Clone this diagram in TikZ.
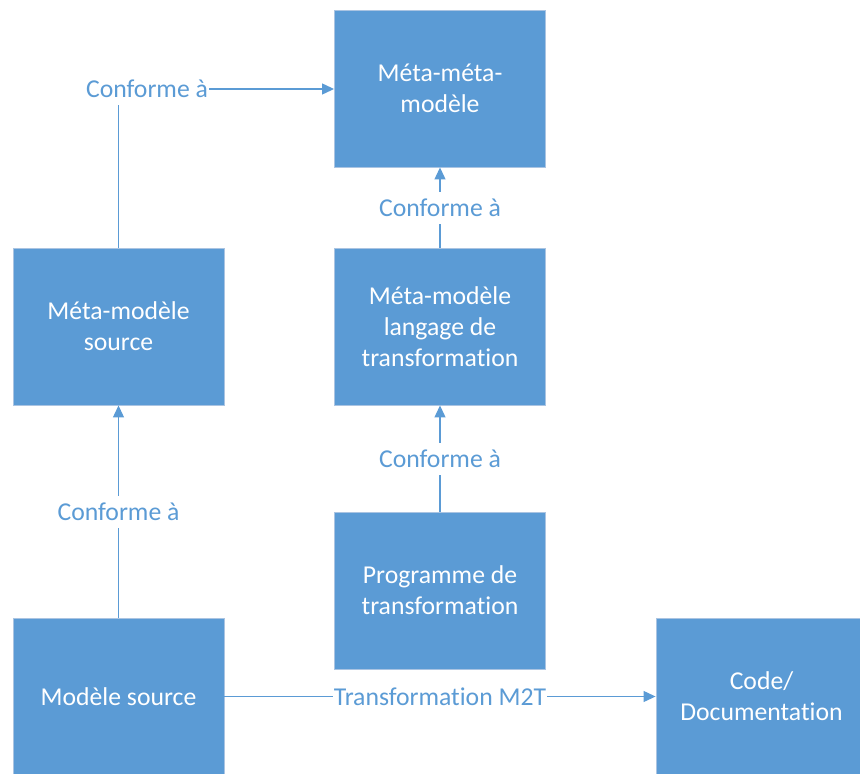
\documentclass[tikz,border=0pt]{standalone}
\usepackage{fontspec}
\setmainfont[Ligatures=NoCommon]{Carlito}
\usetikzlibrary{arrows.meta}
\definecolor{boxblue}{RGB}{91,155,213}
\definecolor{boxrim}{RGB}{170,196,226}
\definecolor{linkblue}{RGB}{91,155,213}
\tikzset{
  mbox/.style={rectangle, fill=boxblue, draw=boxrim, line width=0.9pt,
    minimum width=211pt, minimum height=157pt, text=white, align=center,
    font=\fontsize{25.7}{31}\selectfont, inner sep=0pt},
  link/.style={draw=linkblue, line width=1.2pt,
    -{Triangle[length=12pt,width=11pt]}},
  lbl/.style={fill=white, text=linkblue, inner xsep=1pt, inner ysep=0pt,
    minimum height=32pt, font=\fontsize{25.7}{31}\selectfont}
}
\begin{document}
\begin{tikzpicture}[x=1pt,y=-1pt]
\useasboundingbox (0,0) rectangle (860,774);
% boxes
\node[mbox] (mmm)  at (440,88.5)   {Méta-méta-\\modèle};
\node[mbox] (mms)  at (118.5,326.5) {Méta-modèle\\source};
\node[mbox] (mmlt) at (440,326.5)  {Méta-modèle\\langage de\\transformation};
\node[mbox] (prog) at (440,590.5)  {Programme de\\transformation};
\node[mbox] (ms)   at (118.5,696.5) {Modèle source};
\node[mbox] (code) at (761.5,696.5) {Code/\\Documentation};
% connectors
\coordinate (corner) at (118.5,89);
\draw[link] (mms.north) -- (corner) -- (mmm.west |- corner);
\node[lbl] (l1) at (147,89) {Conforme à};
\draw[link] (mmlt.north) -- node[lbl] (l2) {Conforme à} (mmm.south);
\draw[link] (prog.north) -- node[lbl] (l3) {Conforme à} (mmlt.south);
\draw[link] (ms.north) -- node[lbl] (l4) {Conforme à} (mms.south);
\draw[link] (ms.east) -- node[lbl] (l5) {Transformation M2T} (code.west);
\end{tikzpicture}
\end{document}
